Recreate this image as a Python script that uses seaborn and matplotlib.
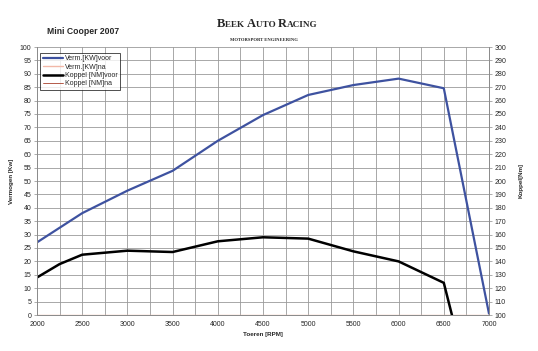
import seaborn as sns
import pandas as pd
import numpy as np
import matplotlib
matplotlib.use('Agg')
import matplotlib.pyplot as plt
from matplotlib.ticker import MultipleLocator

# data
rpm = [2000, 2500, 3000, 3500, 4000, 4500, 5000, 5500, 6000, 6500, 7000]
kw_voor = [27.1, 38.0, 46.4, 53.8, 65.0, 74.6, 82.1, 85.8, 88.2, 84.6, 0.5]
kw_na = [0, 0, 0, 0, 0, 0, 0, 0, 0, 0, 0]

rpm_nm = [2000, 2250, 2500, 3000, 3500, 4000, 4500, 5000, 5500, 6000, 6500, 6590]
nm_voor = [128, 138, 145, 148, 147, 155, 158, 157, 147.5, 140, 124, 100]
nm_na = [100, 100, 100, 100, 100, 100, 100, 100, 100, 100, 100, 100]

labels = ["Verm.[KW]voor", "Verm.[KW]na", "Koppel [NM]voor", "Koppel [NM]na"]
colors = ["#3E52A0", "#F2B8A8", "#000000", "#A8402C"]

sns.set_style("white")
plt.rcParams['font.family'] = ['Liberation Sans', 'DejaVu Sans']

fig = plt.figure(figsize=(5.38, 3.51), dpi=100)
ax = fig.add_axes([37/538, 1-315/351, (489-37)/538, (315-47)/351])
ax2 = ax.twinx()

df_kw = pd.DataFrame({"rpm": rpm, "voor": kw_voor, "na": kw_na})
df_nm = pd.DataFrame({"rpm": rpm_nm, "voor": nm_voor, "na": nm_na})

sns.lineplot(data=df_kw, x="rpm", y="voor", ax=ax, color=colors[0], lw=1.6, label=labels[0], legend=False)
sns.lineplot(data=df_kw, x="rpm", y="na", ax=ax, color=colors[1], lw=1.0, label=labels[1], legend=False)
sns.lineplot(data=df_nm, x="rpm", y="voor", ax=ax2, color=colors[2], lw=1.8, label=labels[2], legend=False)
sns.lineplot(data=df_nm, x="rpm", y="na", ax=ax2, color=colors[3], lw=0.6, label=labels[3], legend=False)

ax.set_xlim(2000, 7000)
ax.set_ylim(0, 100)
ax2.set_ylim(100, 300)
ax.xaxis.set_major_locator(MultipleLocator(500))
ax.xaxis.set_minor_locator(MultipleLocator(250))
ax.yaxis.set_major_locator(MultipleLocator(5))
ax2.yaxis.set_major_locator(MultipleLocator(10))

ax.grid(True, which='both', color='#9a9a9a', lw=0.6)
ax.set_axisbelow(True)
for a in (ax, ax2):
    for s in a.spines.values():
        s.set_color('#8c8c8c')
        s.set_linewidth(0.7)
ax.spines['top'].set_visible(False)
ax2.spines['top'].set_visible(False)

ax.tick_params(axis='both', which='major', labelsize=5, length=2, width=0.5, color='#8c8c8c', pad=2)
ax.tick_params(axis='x', which='minor', length=0)
ax2.tick_params(axis='y', labelsize=5, length=2, width=0.5, color='#8c8c8c', pad=2)

ax.set_xlabel("Toeren [RPM]", fontsize=4.5, fontweight='bold', labelpad=3)
ax.set_ylabel("Vermogen [Kw]", fontsize=4.5, fontweight='bold', labelpad=4)
ax2.set_ylabel("Koppel[Nm]", fontsize=4.5, fontweight='bold', labelpad=9)

h1, l1 = ax.get_legend_handles_labels()
h2, l2 = ax2.get_legend_handles_labels()
leg = ax2.legend(h1 + h2, l1 + l2, loc='upper left', bbox_to_anchor=(0.007, 0.978),
                 fontsize=5, frameon=True, fancybox=False, edgecolor='black',
                 handlelength=3.0, handletextpad=0.2, borderpad=0.35, labelspacing=0.2,
                 borderaxespad=0)
leg.get_frame().set_linewidth(0.6)

fig.text(47/538, 1-32/351, "Mini Cooper 2007", fontsize=6.2, fontweight='bold', va='center')

# logo text in small caps, built piece by piece
serif = ['Liberation Serif', 'DejaVu Serif']
pieces = [("B", 9), ("EEK ", 6.6), ("A", 9), ("UTO ", 6.6), ("R", 9), ("ACING", 6.6)]
renderer = fig.canvas.get_renderer()
x = 217
for txt, size in pieces:
    t = fig.text(x/538, 1-27/351, txt, fontsize=size, family=serif, fontweight='bold', va='baseline')
    x += t.get_window_extent(renderer).width
fig.text(264/538, 1-40/351, "MOTORSPORT ENGINEERING", fontsize=3.3, fontweight='bold',
         family=serif, ha='center', va='center')

fig.savefig("out.png", dpi=100, facecolor='white')
